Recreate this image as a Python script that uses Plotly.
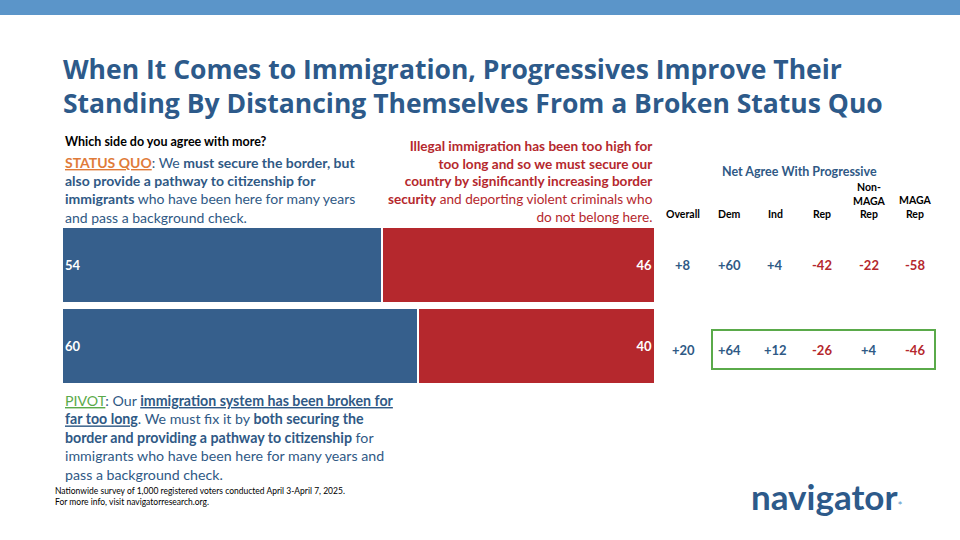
import plotly.graph_objects as go

W, H = 960, 540
rows = ['Status quo', 'Pivot']
progressive = [54, 60]
secure = [46, 40]
table_cols = ['Overall', 'Dem', 'Ind', 'Rep', 'Non-<br>MAGA<br>Rep', 'MAGA<br>Rep']
table_vals = [
    ['+8', '+60', '+4', '-42', '-22', '-58'],
    ['+20', '+64', '+12', '-26', '+4', '-46'],
]

BLUE = '#365f8c'
RED = '#b5282d'
TXT = '#2f5985'
FONT = 'Lato'


def px(x):
    return x / W


def py(y):
    return 1 - y / H


fig = go.Figure()
fig.add_trace(go.Bar(y=rows, x=progressive, orientation='h', marker=dict(color=BLUE, line=dict(color='white', width=1.5)),
                     text=['<b>%d</b>' % v for v in progressive], textposition='inside', insidetextanchor='start',
                     textfont=dict(color='white', size=13, family=FONT)))
fig.add_trace(go.Bar(y=rows, x=secure, orientation='h', marker=dict(color=RED, line=dict(color='white', width=1.5)),
                     text=['<b>%d</b>' % v for v in secure], textposition='inside', insidetextanchor='end',
                     textfont=dict(color='white', size=13, family=FONT)))

fig.update_layout(
    width=W, height=H, barmode='stack', bargap=0.07, showlegend=False,
    margin=dict(l=0, r=0, t=0, b=0), paper_bgcolor='white', plot_bgcolor='white',
    xaxis=dict(domain=[px(62), px(655)], range=[0, 100], visible=False),
    yaxis=dict(domain=[py(387), py(224)], categoryorder='array', categoryarray=rows[::-1], visible=False),
    font=dict(family=FONT),
)

shapes = [
    dict(type='rect', xref='paper', yref='paper', x0=0, x1=1, y0=py(15), y1=1, fillcolor='#5b95c9', line_width=0),
    dict(type='rect', xref='paper', yref='paper', x0=px(712), x1=px(935), y0=py(369), y1=py(330),
         line=dict(color='#5aaa4a', width=2)),
]
fig.update_layout(shapes=shapes)

ann = []


def add(x, y, text, size=13, color=TXT, xanchor='left', yanchor='top', align='left', family=FONT, **kw):
    ann.append(dict(xref='paper', yref='paper', x=px(x), y=py(y), text=text, showarrow=False,
                    xanchor=xanchor, yanchor=yanchor, align=align, font=dict(size=size, color=color, family=family), **kw))


add(61, 49, '<b>When It Comes to Immigration, Progressives Improve Their<br>Standing By Distancing Themselves From a Broken Status Quo</b>',
    size=26.5, color='#2d5a8a', family='Open Sans')
add(63, 132, '<b>Which side do you agree with more?</b>', size=12.5, color='black')
add(63, 152, '<span style="color:#e07b39"><b><u>STATUS QUO</u></b></span>: We <b>must secure the border, but<br>'
    'also provide a pathway to citizenship for<br>immigrants</b> who have been here for many years<br>and pass a background check.',
    size=14)
add(655, 136, '<b>Illegal immigration has been too high for<br>too long and so we must secure our<br>'
    'country by significantly increasing border<br>security</b> and deporting violent criminals who<br>do not belong here.',
    size=13.6, color=RED, xanchor='right', align='right')
add(63, 390, '<span style="color:#5aaa4a"><u>PIVOT</u></span>: Our <b><u>immigration system has been broken for<br>'
    'far too long</u></b>. We must fix it by <b>both securing the<br>border and providing a pathway to citizenship</b> for<br>'
    'immigrants who have been here for many years and<br>pass a background check.', size=14.2)
add(53, 484, 'Nationwide survey of 1,000 registered voters conducted April 3-April 7, 2025.<br>For more info, visit navigatorresearch.org.',
    size=8.5, color='black')
add(799, 162, '<b>Net Agree With Progressive</b>', size=12.5, xanchor='center')
add(905, 496, '<b>navigator</b><span style="color:#5b95c9;font-size:12px">*</span>', size=35, color='#2d5a8a',
    xanchor='right', yanchor='middle')

col_x = [683, 729, 775, 822, 869, 915]
for cx, name in zip(col_x, table_cols):
    add(cx, 222, '<b>%s</b>' % name, size=10.5, color='black', xanchor='center', yanchor='bottom', align='center')
for ry, vals in zip([265, 350], table_vals):
    for cx, v in zip(col_x, vals):
        add(cx, ry, '<b>%s</b>' % v, size=13, color=RED if v.startswith('-') else TXT, xanchor='center', yanchor='middle')

fig.update_layout(annotations=ann)
fig.write_html("out.html", config={'displayModeBar': False}, post_script="document.body.style.margin='0';")
